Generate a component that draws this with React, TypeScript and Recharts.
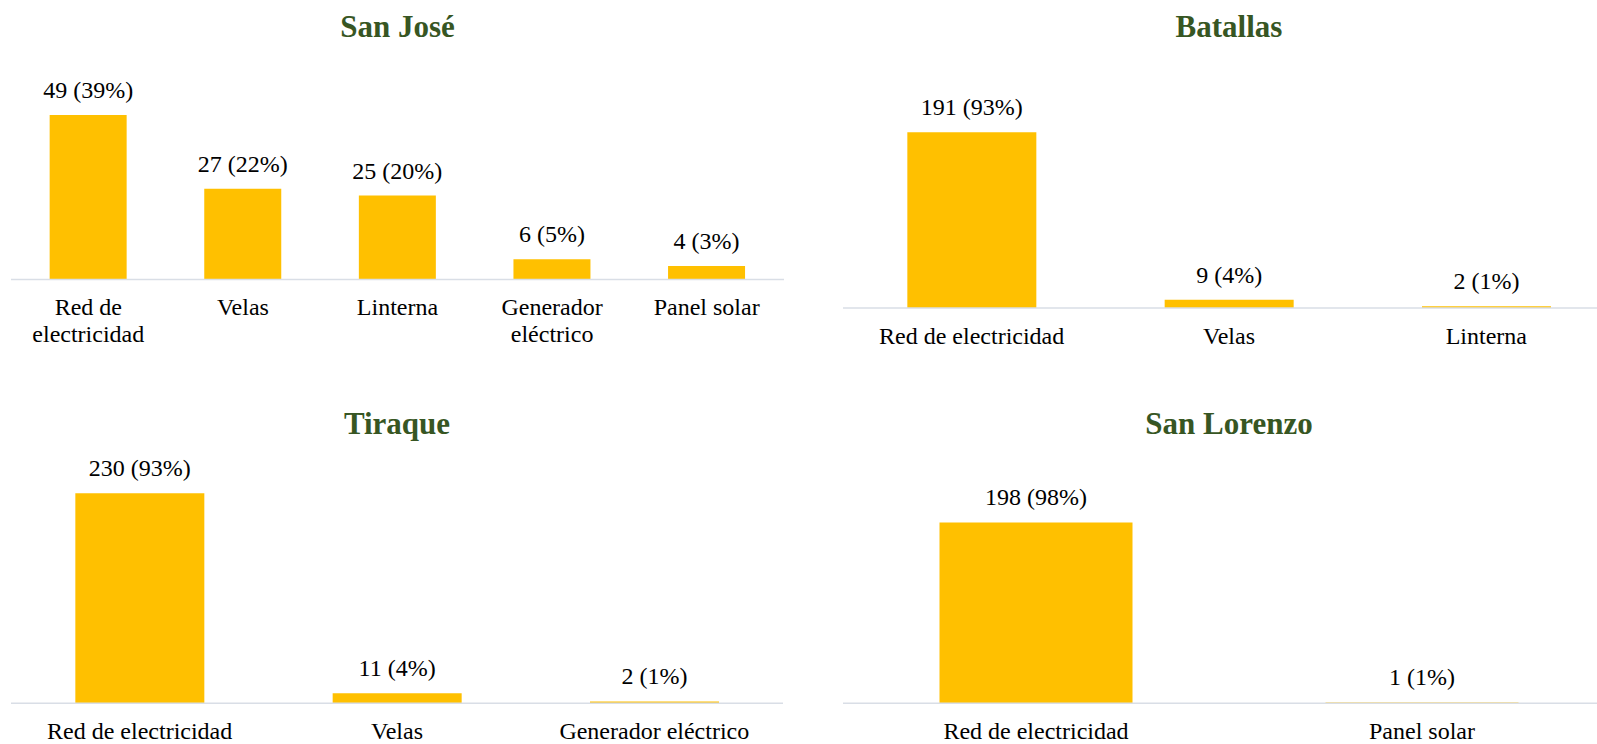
import { Bar, BarChart, XAxis, YAxis, LabelList } from "recharts"

const sanJoseCategories = ["Red de electricidad", "Velas", "Linterna", "Generador eléctrico", "Panel solar"]
const sanJoseCounts = [49, 27, 25, 6, 4]
const sanJosePct = [39, 22, 20, 5, 3]

const batallasCategories = ["Red de electricidad", "Velas", "Linterna"]
const batallasCounts = [191, 9, 2]
const batallasPct = [93, 4, 1]

const tiraqueCategories = ["Red de electricidad", "Velas", "Generador eléctrico"]
const tiraqueCounts = [230, 11, 2]
const tiraquePct = [93, 4, 1]

const sanLorenzoCategories = ["Red de electricidad", "Panel solar"]
const sanLorenzoCounts = [198, 1]
const sanLorenzoPct = [98, 1]

const titles = ["San José", "Batallas", "Tiraque", "San Lorenzo"]
const yMax = [60, 250, 250, 250]

const FONT = "'Liberation Serif', 'Times New Roman', serif"
const GOLD = "#FFC000"
const GREEN = "#375623"
const AXIS = "#d9dee6"

const build = (cats: string[], counts: number[], pct: number[]) =>
  cats.map((name, i) => ({ name, value: counts[i], pct: pct[i] }))

// chart box + plot margins for each panel (page coordinates)
const panels = [
  { data: build(sanJoseCategories, sanJoseCounts, sanJosePct), left: 0, top: 0, width: 800, height: 372, margin: { top: 78, left: 11, right: 16, bottom: 12.5 }, axisH: 80, wrap: 150 },
  { data: build(batallasCategories, batallasCounts, batallasPct), left: 800, top: 0, width: 830, height: 372, margin: { top: 78, left: 43, right: 15, bottom: 14 }, axisH: 50, wrap: 250 },
  { data: build(tiraqueCategories, tiraqueCounts, tiraquePct), left: 0, top: 372, width: 800, height: 372, margin: { top: 103, left: 11, right: 17, bottom: 0.7 }, axisH: 40, wrap: 250 },
  { data: build(sanLorenzoCategories, sanLorenzoCounts, sanLorenzoPct), left: 800, top: 372, width: 830, height: 372, margin: { top: 103, left: 43, right: 15, bottom: 0.7 }, axisH: 40, wrap: 380 },
]

let ctx: CanvasRenderingContext2D | null = null
function measure(s: string) {
  if (!ctx) {
    ctx = document.createElement("canvas").getContext("2d")
    if (ctx) ctx.font = "24px 'Liberation Serif'"
  }
  return ctx ? ctx.measureText(s).width : s.length * 11
}

function wrapWords(s: string, max: number) {
  const lines: string[] = []
  let cur = ""
  for (const w of s.split(" ")) {
    const next = cur ? cur + " " + w : w
    if (cur && measure(next) > max) {
      lines.push(cur)
      cur = w
    } else cur = next
  }
  if (cur) lines.push(cur)
  return lines
}

function makeTick(wrap: number) {
  return (props: any) => {
    const { x, y, payload } = props
    const lines = wrapWords(String(payload.value), wrap)
    return (
      <text x={x} y={y + 35.5} textAnchor="middle" fill="#000" fontSize={24} fontFamily={FONT}>
        {lines.map((l, i) => (
          <tspan key={i} x={x} dy={i === 0 ? 0 : 27}>
            {l}
          </tspan>
        ))}
      </text>
    )
  }
}

function makeLabel(data: { pct: number }[]) {
  return (props: any) => {
    const { x, y, width, value, index } = props
    return (
      <text x={x + width / 2} y={y - 17} textAnchor="middle" fill="#000" fontSize={24} fontFamily={FONT}>
        {`${value} (${data[index].pct}%)`}
      </text>
    )
  }
}

export default function App() {
  return (
    <div style={{ position: "absolute", left: 0, top: 0, width: 1597, height: 744, overflow: "hidden", background: "#fff" }}>
      {panels.map((p, i) => (
        <div key={i} style={{ position: "absolute", left: p.left, top: p.top }}>
          <BarChart width={p.width} height={p.height} data={p.data} margin={p.margin} barCategoryGap="25%">
            <XAxis
              dataKey="name"
              interval={0}
              height={p.axisH}
              tickLine={false}
              tickSize={0}
              tickMargin={0}
              axisLine={{ stroke: AXIS, strokeWidth: 1.5 }}
              tick={makeTick(p.wrap)}
            />
            <YAxis hide domain={[0, yMax[i]]} />
            <Bar dataKey="value" fill={GOLD} isAnimationActive={false}>
              <LabelList dataKey="value" content={makeLabel(p.data)} />
            </Bar>
          </BarChart>
        </div>
      ))}
      <svg width={1597} height={744} style={{ position: "absolute", left: 0, top: 0, pointerEvents: "none" }}>
        {panels.map((p, i) => {
          const cx = p.left + p.margin.left + (p.width - p.margin.left - p.margin.right) / 2
          const baseline = p.top + (i < 2 ? 37 : 62)
          return (
            <text key={i} x={cx} y={baseline} textAnchor="middle" fill={GREEN} fontSize={31} fontWeight="bold" fontFamily={FONT}>
              {titles[i]}
            </text>
          )
        })}
      </svg>
    </div>
  )
}
